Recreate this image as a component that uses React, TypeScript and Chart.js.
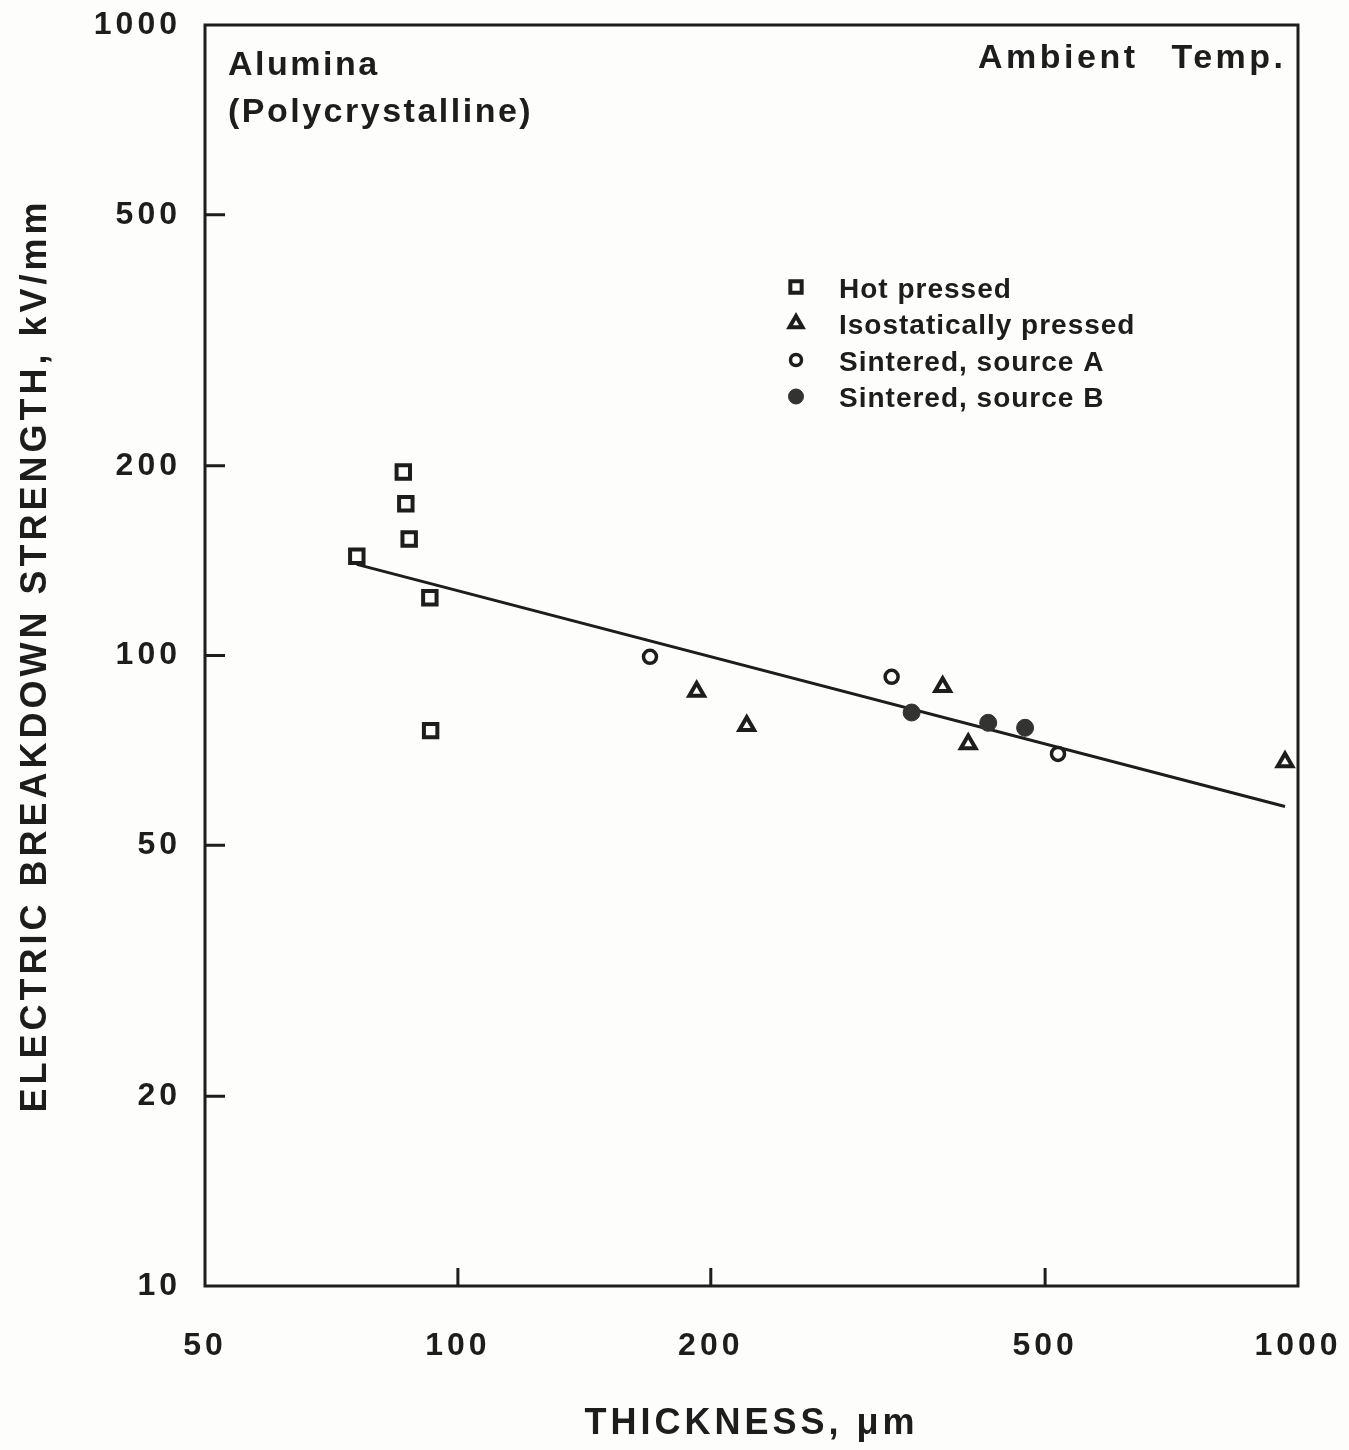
import React, { useEffect, useRef } from "react";
import { Chart, registerables } from "chart.js";
import { drawPoint } from "chart.js/helpers";

Chart.register(...registerables);

// ---- Data ----
const X_TICKS = [50, 100, 200, 500, 1000];
const Y_TICKS = [10, 20, 50, 100, 200, 500, 1000];

const HOT_X = [75.8, 86.1, 86.7, 87.5, 92.6, 92.8];
const HOT_Y = [143.7, 195.4, 174, 153, 123.5, 76];

const ISO_X = [192.4, 220.7, 377.6, 405, 965];
const ISO_Y = [87.7, 77.4, 89.2, 72.4, 67.8];

const SA_X = [169.3, 328.3, 518];
const SA_Y = [99.5, 92.5, 69.8];

const SB_X = [346.8, 427.8, 473.3];
const SB_Y = [81.2, 78.2, 76.8];

const FIT_X = [75.8, 965];
const FIT_Y = [139.5, 57.6];

const LEGEND_LABELS = [
  "Hot pressed",
  "Isostatically pressed",
  "Sintered, source A",
  "Sintered, source B",
];

const X_TITLE = "THICKNESS, \u03bcm";
const Y_TITLE = "ELECTRIC BREAKDOWN STRENGTH, kV/mm";
const NOTE_LEFT = ["Alumina", "(Polycrystalline)"];
const NOTE_RIGHT = ["Ambient", "Temp."];

const FONT = '"Liberation Sans", Arial, Helvetica, sans-serif';
const INK = "#1d1d1d";
const BG = "#fdfdfb";

const pts = (xs: number[], ys: number[]) => xs.map((x, i) => ({ x, y: ys[i] }));

const zeroPad = (s: any) => {
  s.paddingLeft = 0;
  s.paddingRight = 0;
  s.paddingTop = 0;
  s.paddingBottom = 0;
};

export default function App() {
  const ref = useRef<HTMLCanvasElement>(null);

  useEffect(() => {
    const canvas = ref.current;
    if (!canvas) return;

    const bgPlugin = {
      id: "bgPlugin",
      beforeDraw(chart: any) {
        const { ctx, width, height } = chart;
        ctx.save();
        ctx.fillStyle = BG;
        ctx.fillRect(0, 0, width, height);
        ctx.restore();
        (ctx as any).letterSpacing = "4px";
      },
    };

    const framePlugin = {
      id: "framePlugin",
      afterDraw(chart: any) {
        const { ctx, chartArea, scales } = chart;
        const { left, top, right, bottom } = chartArea;
        const xs = scales.x;
        const ys = scales.y;
        ctx.save();
        (ctx as any).letterSpacing = "0px";
        ctx.strokeStyle = INK;
        ctx.lineWidth = 3;
        ctx.strokeRect(left, top, right - left, bottom - top);
        ctx.beginPath();
        for (const t of ys.ticks) {
          const py = ys.getPixelForValue(t.value);
          if (py > top + 2 && py < bottom - 2) {
            ctx.moveTo(left, py);
            ctx.lineTo(left + 20, py);
          }
        }
        for (const t of xs.ticks) {
          const px = xs.getPixelForValue(t.value);
          if (px > left + 2 && px < right - 2) {
            ctx.moveTo(px, bottom);
            ctx.lineTo(px, bottom - 18);
          }
        }
        ctx.stroke();

        // annotations
        ctx.fillStyle = INK;
        ctx.font = `bold 34px ${FONT}`;
        (ctx as any).letterSpacing = "2.5px";
        ctx.textBaseline = "alphabetic";
        ctx.textAlign = "left";
        ctx.fillText(NOTE_LEFT[0], left + 23, top + 50);
        ctx.fillText(NOTE_LEFT[1], left + 23, top + 97);
        (ctx as any).letterSpacing = "3.5px";
        ctx.fillText(NOTE_RIGHT[0], right - 320, top + 43);
        ctx.textAlign = "right";
        ctx.fillText(NOTE_RIGHT[1], right - 15 + 3.5, top + 43);

        // legend
        const legendX = 796;
        const textX = 839;
        const rows = [287, 323.5, 360, 396.5];
        const legendRadius = [8, 7.5, 5.5, 7.5];
        ctx.font = `bold 28px ${FONT}`;
        (ctx as any).letterSpacing = "1px";
        ctx.textAlign = "left";
        for (let i = 0; i < 4; i++) {
          const ds = chart.data.datasets[i];
          ctx.save();
          (ctx as any).letterSpacing = "0px";
          ctx.strokeStyle = ds.borderColor;
          ctx.fillStyle = ds.backgroundColor;
          ctx.lineWidth = ds.borderWidth;
          drawPoint(ctx, {
            pointStyle: ds.pointStyle,
            radius: legendRadius[i],
            rotation: 0,
            borderWidth: ds.borderWidth,
          } as any, legendX, rows[i]);
          ctx.restore();
          ctx.fillStyle = INK;
          ctx.fillText(LEGEND_LABELS[i], textX, rows[i] + 10.5);
        }
        ctx.restore();
      },
    };

    const chart = new Chart(canvas, {
      type: "scatter",
      data: {
        datasets: [
          {
            label: LEGEND_LABELS[0],
            data: pts(HOT_X, HOT_Y),
            pointStyle: "rect",
            pointRadius: 9.5,
            borderWidth: 4,
            borderColor: INK,
            backgroundColor: BG,
          },
          {
            label: LEGEND_LABELS[1],
            data: pts(ISO_X, ISO_Y),
            pointStyle: "triangle",
            pointRadius: 8.5,
            borderWidth: 4,
            borderColor: INK,
            backgroundColor: BG,
          },
          {
            label: LEGEND_LABELS[2],
            data: pts(SA_X, SA_Y),
            pointStyle: "circle",
            pointRadius: 6.5,
            borderWidth: 3.5,
            borderColor: INK,
            backgroundColor: BG,
          },
          {
            label: LEGEND_LABELS[3],
            data: pts(SB_X, SB_Y),
            pointStyle: "circle",
            pointRadius: 8.5,
            borderWidth: 1,
            borderColor: "#333333",
            backgroundColor: "#333333",
          },
          {
            type: "line",
            label: "fit",
            data: pts(FIT_X, FIT_Y),
            showLine: true,
            pointRadius: 0,
            borderWidth: 3,
            borderColor: INK,
            backgroundColor: INK,
            fill: false,
            tension: 0,
          } as any,
        ],
      },
      options: {
        responsive: false,
        animation: false,
        devicePixelRatio: 1,
        events: [],
        layout: { padding: { top: 25, right: 51, left: 0, bottom: 0 } },
        plugins: {
          legend: { display: false },
          tooltip: { enabled: false },
        },
        scales: {
          x: {
            type: "logarithmic",
            position: "bottom",
            min: 50,
            max: 1000,
            afterBuildTicks: (s: any) => {
              s.ticks = X_TICKS.map((v) => ({ value: v }));
            },
            afterFit: (s: any) => {
              s.height = 164;
              zeroPad(s);
            },
            grid: { display: false, drawTicks: false },
            border: { display: false },
            ticks: {
              autoSkip: false,
              maxRotation: 0,
              padding: 41,
              color: INK,
              font: { family: FONT, size: 32, weight: "bold" },
              callback: (v: any) => String(v),
            },
            title: {
              display: true,
              text: X_TITLE,
              color: INK,
              font: { family: FONT, size: 36, weight: "bold" },
              padding: { top: 0, bottom: 4 },
            },
          },
          y: {
            type: "logarithmic",
            position: "left",
            min: 10,
            max: 1000,
            afterBuildTicks: (s: any) => {
              s.ticks = Y_TICKS.map((v) => ({ value: v }));
            },
            afterFit: (s: any) => {
              s.width = 205;
              zeroPad(s);
            },
            grid: { display: false, drawTicks: false },
            border: { display: false },
            ticks: {
              autoSkip: false,
              padding: 24,
              color: INK,
              font: { family: FONT, size: 32, weight: "bold" },
              callback: (v: any) => String(v),
            },
            title: {
              display: true,
              text: Y_TITLE,
              color: INK,
              font: { family: FONT, size: 36, weight: "bold" },
              padding: { top: 14, bottom: 0 },
            },
          },
        },
      },
      plugins: [bgPlugin, framePlugin],
    } as any);

    return () => chart.destroy();
  }, []);

  return (
    <div
      style={{
        position: "absolute",
        left: 0,
        top: 0,
        width: 1349,
        height: 1450,
        background: BG,
      }}
    >
      <canvas ref={ref} width={1349} height={1450} style={{ width: 1349, height: 1450, display: "block" }} />
    </div>
  );
}
